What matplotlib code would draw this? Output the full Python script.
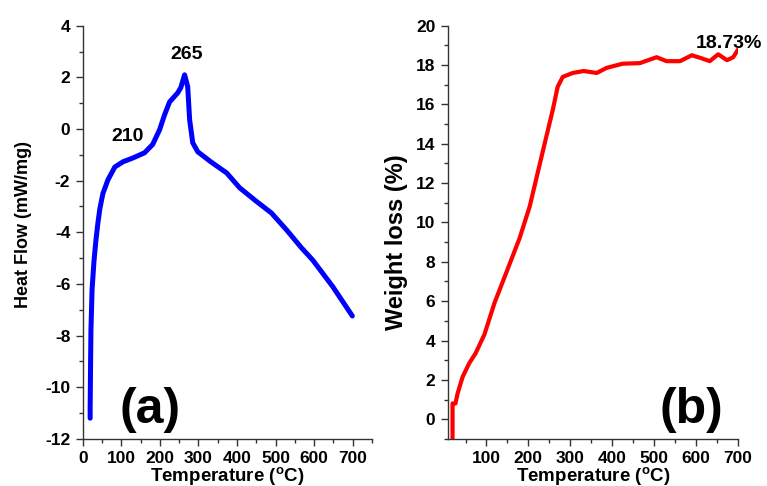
import matplotlib
matplotlib.use("Agg")
import matplotlib.pyplot as plt
from matplotlib.ticker import MultipleLocator

plt.rcParams["font.family"] = ["Liberation Sans", "DejaVu Sans"]
plt.rcParams["font.weight"] = "bold"
plt.rcParams["axes.unicode_minus"] = False
plt.rcParams["mathtext.fontset"] = "custom"
plt.rcParams["mathtext.rm"] = "Liberation Sans:bold"
plt.rcParams["mathtext.bf"] = "Liberation Sans:bold"
plt.rcParams["mathtext.default"] = "bf"

# (a) DSC heat flow
dsc_temp = [19, 19, 20, 21, 24, 29, 34, 39, 44, 52, 65, 83, 104, 130, 160,
            181, 199, 212, 225, 246, 254, 264, 272, 277, 285, 298, 332, 373,
            407, 450, 489, 528, 567, 596, 648, 699]
dsc_flow = [-11.2, -10.8, -9.2, -7.8, -6.2, -5.1, -4.3, -3.65, -3.1, -2.5,
            -1.97, -1.47, -1.27, -1.12, -0.92, -0.6, -0.03, 0.55, 1.05, 1.4,
            1.6, 2.1, 1.64, 0.36, -0.53, -0.88, -1.27, -1.7, -2.28, -2.8,
            -3.25, -3.9, -4.6, -5.07, -6.1, -7.24]

# (b) TGA weight loss
tga_temp = [19, 19, 26, 31, 43, 59, 74, 95, 119, 150, 179, 203, 222, 241, 258,
            270, 282, 306, 332, 363, 387, 425, 466, 506, 530, 562, 590, 610,
            633, 653, 674, 689, 700]
tga_loss = [-0.97, 0.8, 0.8, 1.3, 2.15, 2.85, 3.35, 4.3, 5.9, 7.6, 9.2,
            10.8, 12.5, 14.2, 15.7, 16.9, 17.4, 17.6, 17.7, 17.6, 17.86, 18.07,
            18.1, 18.4, 18.2, 18.2, 18.5, 18.37, 18.2, 18.55, 18.25, 18.4,
            18.78]

fig = plt.figure(figsize=(7.67, 4.86), dpi=100)
ax1 = fig.add_axes([0.108, 0.097, 0.377, 0.850])
ax2 = fig.add_axes([0.584, 0.097, 0.378, 0.850])

ax1.plot(dsc_temp, dsc_flow, color="#0000ff", linewidth=3.6,
         solid_capstyle="round", solid_joinstyle="round")
ax1.set_xlim(0, 750)
ax1.set_ylim(-12, 4)
ax1.set_xticks(range(0, 701, 100))
ax1.xaxis.set_minor_locator(MultipleLocator(50))
ax1.yaxis.set_major_locator(MultipleLocator(2))
ax1.yaxis.set_minor_locator(MultipleLocator(1))
ax1.set_xlabel(r"Temperature ($^{o}$C)", fontsize=13.5, fontweight="bold",
               labelpad=-1)
ax1.set_ylabel("Heat Flow (mW/mg)", fontsize=13, fontweight="bold")
ax1.yaxis.set_label_coords(-0.176, 0.518)
ax1.text(117, -0.3, "210", fontsize=14, fontweight="bold", ha="center",
         va="center")
ax1.text(270, 2.88, "265", fontsize=14, fontweight="bold", ha="center",
         va="center")
ax1.text(174, -10.9, "(a)", fontsize=36, fontweight="bold", ha="center",
         va="center")

ax2.plot(tga_temp, tga_loss, color="#ff0000", linewidth=3.0,
         solid_capstyle="round", solid_joinstyle="round")
ax2.set_xlim(8, 700)
ax2.set_ylim(-1, 20)
ax2.set_xticks(range(100, 701, 100))
ax2.xaxis.set_minor_locator(MultipleLocator(50))
ax2.yaxis.set_major_locator(MultipleLocator(2))
ax2.yaxis.set_minor_locator(MultipleLocator(1))
ax2.set_xlabel(r"Temperature ($^{o}$C)", fontsize=13.5, fontweight="bold",
               labelpad=-1)
ax2.set_ylabel("Weight loss (%)", fontsize=17, fontweight="bold")
ax2.yaxis.set_label_coords(-0.138, 0.475)
ax2.text(678, 19.1, "18.73%", fontsize=14, fontweight="bold", ha="center",
         va="center")
ax2.text(590, 0.45, "(b)", fontsize=36, fontweight="bold", ha="center",
         va="center")

for ax in (ax1, ax2):
    for s in ("top", "right"):
        ax.spines[s].set_visible(False)
    for s in ("left", "bottom"):
        ax.spines[s].set_color("#333333")
        ax.spines[s].set_linewidth(1.0)
    ax.tick_params(which="major", length=5, width=1, color="#333333",
                   labelsize=12.5, pad=4)
    ax.tick_params(which="minor", length=3, width=1, color="#333333")
    for lab in ax.get_xticklabels() + ax.get_yticklabels():
        lab.set_fontweight("bold")

fig.savefig("out.png", dpi=100)
